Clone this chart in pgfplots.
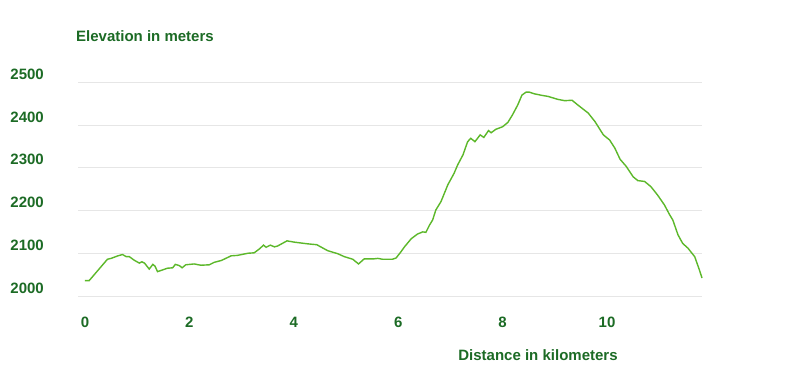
\documentclass[border=0pt]{standalone}
\usepackage{pgfplots}
\pgfplotsset{compat=1.18}
\usepackage{fontspec}
\setmainfont{Liberation Sans}
\definecolor{txtgreen}{HTML}{1C6B25}
\definecolor{linegreen}{HTML}{5CB82A}
\definecolor{gridgray}{HTML}{E6E6E6}
\begin{document}
\begin{tikzpicture}[x=1bp,y=1bp]
\useasboundingbox[fill=white] (0,0) rectangle (800,384);
\begin{axis}[
  at={(78bp,88bp)}, anchor=south west,
  scale only axis, width=624bp, height=213.7bp,
  xmin=-0.134, xmax=11.82, ymin=2000, ymax=2500,
  axis line style={draw=none},
  major tick style={draw=none},
  xtick={0,2,4,6,8,10},
  ytick={2000,2100,2200,2300,2400,2500},
  ymajorgrids, grid style={gridgray, line width=1bp},
  /pgf/number format/assume math mode=true,
  /pgf/number format/1000 sep={},
  ticklabel style={font=\bfseries\fontsize{15bp}{18bp}\selectfont, text=txtgreen, inner sep=0pt},
  xticklabel style={anchor=north, yshift=-21bp},
  yticklabel style={anchor=east, xshift=-34bp, yshift=8bp},
  clip=false,
]
\addplot[linegreen, line width=1.4bp] coordinates {
(0,2036) (0.08,2036) (0.43,2086) (0.5,2088) (0.63,2094) (0.72,2097) (0.79,2092) (0.85,2092)
(0.94,2084) (1.04,2077) (1.09,2080) (1.14,2077) (1.23,2063) (1.30,2074) (1.34,2070) (1.39,2057)
(1.58,2065) (1.68,2066) (1.73,2074) (1.81,2071) (1.86,2066) (1.93,2073) (2.09,2075) (2.22,2072)
(2.38,2073) (2.48,2079) (2.61,2083) (2.80,2094) (2.92,2095) (3.12,2100) (3.24,2101) (3.34,2110)
(3.42,2119) (3.47,2114) (3.55,2119) (3.63,2115) (3.69,2117) (3.87,2129) (4.01,2126) (4.27,2122)
(4.44,2120) (4.65,2106) (4.84,2099) (4.97,2092) (5.13,2086) (5.24,2075) (5.35,2087) (5.54,2087)
(5.61,2088) (5.70,2086) (5.89,2086) (5.96,2089) (6.05,2103) (6.12,2115) (6.25,2134) (6.37,2145)
(6.47,2150) (6.53,2149) (6.60,2166) (6.66,2178) (6.72,2201) (6.82,2221) (6.95,2260) (7.07,2287)
(7.14,2307) (7.24,2330) (7.33,2361) (7.39,2369) (7.47,2361) (7.57,2377) (7.64,2371) (7.73,2387)
(7.78,2382) (7.87,2390) (8.00,2396) (8.10,2406) (8.19,2424) (8.29,2447) (8.37,2470) (8.45,2477)
(8.51,2477) (8.61,2473) (8.77,2469) (8.87,2467) (9.06,2460) (9.19,2457) (9.33,2458) (9.44,2447)
(9.64,2428) (9.77,2408) (9.93,2377) (10.05,2365) (10.15,2346) (10.25,2320) (10.37,2303) (10.50,2279)
(10.59,2270) (10.72,2268) (10.84,2256) (10.97,2236) (11.10,2213) (11.20,2190) (11.26,2178) (11.36,2143)
(11.45,2123) (11.55,2112) (11.68,2092) (11.77,2061) (11.82,2042)
};
\end{axis}
\node[anchor=west, inner sep=0pt, text=txtgreen, font=\bfseries\fontsize{15bp}{18bp}\selectfont] at (76,348) {Elevation in meters};
\node[inner sep=0pt, text=txtgreen, font=\bfseries\fontsize{15bp}{18bp}\selectfont] at (538,29) {Distance in kilometers};
\end{tikzpicture}
\end{document}
